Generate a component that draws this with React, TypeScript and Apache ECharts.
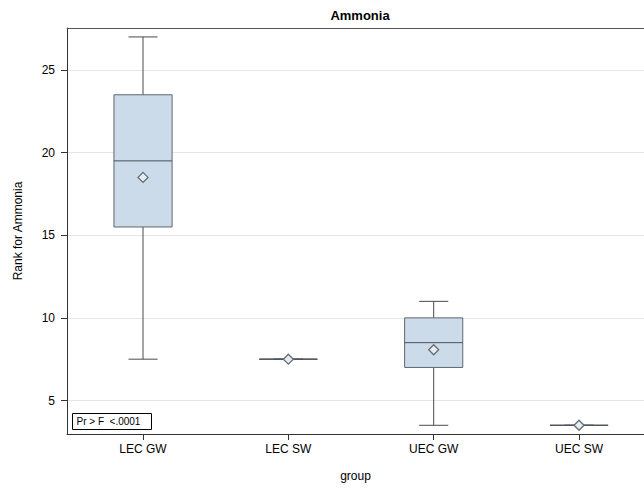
import React, { useEffect, useRef } from "react";
import * as echarts from "echarts";

// Groups and five-number summaries for the ranked ammonia values
const groups = ["LEC GW", "LEC SW", "UEC GW", "UEC SW"];
const whiskerLow = [7.5, 7.5, 3.5, 3.5];
const q1 = [15.5, 7.5, 7, 3.5];
const median = [19.5, 7.5, 8.5, 3.5];
const q3 = [23.5, 7.5, 10, 3.5];
const whiskerHigh = [27, 7.5, 11, 3.5];
const means = [18.5, 7.5, 8.07, 3.5];
const yTicks = [5, 10, 15, 20, 25];
const xTicks = [0, 1, 2, 3];

const BOX_FILL = "#CCDBEA";
const BOX_EDGE = "#5F6770";
const WHISKER = "#4A4A4A";
const FONT = "'Liberation Sans', Arial, sans-serif";
const X_MIN = -0.523;
const X_MAX = 3.447;

export default function App() {
  const ref = useRef<HTMLDivElement>(null);

  useEffect(() => {
    if (!ref.current) return;
    const chart = echarts.init(ref.current, null, { renderer: "svg" });

    const data = groups.map((_, i) => [
      i,
      whiskerLow[i],
      q1[i],
      median[i],
      q3[i],
      whiskerHigh[i],
      means[i],
    ]);

    const renderItem = (params: any, api: any) => {
      const x = api.value(0);
      const pLow = api.coord([x, api.value(1)]);
      const pQ1 = api.coord([x, api.value(2)]);
      const pMed = api.coord([x, api.value(3)]);
      const pQ3 = api.coord([x, api.value(4)]);
      const pHigh = api.coord([x, api.value(5)]);
      const pMean = api.coord([x, api.value(6)]);
      const boxW = api.size([0.4, 0])[0];
      const capW = api.size([0.2, 0])[0];
      const cx = pMed[0];
      const d = 5;
      const lineStyle = { stroke: WHISKER, lineWidth: 1, fill: null };
      return {
        type: "group",
        children: [
          { type: "line", shape: { x1: cx, y1: pLow[1], x2: cx, y2: pQ1[1] }, style: lineStyle },
          { type: "line", shape: { x1: cx, y1: pQ3[1], x2: cx, y2: pHigh[1] }, style: lineStyle },
          { type: "line", shape: { x1: cx - capW / 2, y1: pLow[1], x2: cx + capW / 2, y2: pLow[1] }, style: lineStyle },
          { type: "line", shape: { x1: cx - capW / 2, y1: pHigh[1], x2: cx + capW / 2, y2: pHigh[1] }, style: lineStyle },
          {
            type: "rect",
            shape: { x: cx - boxW / 2, y: pQ3[1], width: boxW, height: pQ1[1] - pQ3[1] },
            style: { fill: BOX_FILL, stroke: BOX_EDGE, lineWidth: 1 },
          },
          { type: "line", shape: { x1: cx - boxW / 2, y1: pMed[1], x2: cx + boxW / 2, y2: pMed[1] }, style: { stroke: "#4A5058", lineWidth: 1 } },
          {
            type: "polygon",
            shape: {
              points: [
                [pMean[0], pMean[1] - d],
                [pMean[0] + d, pMean[1]],
                [pMean[0], pMean[1] + d],
                [pMean[0] - d, pMean[1]],
              ],
            },
            style: { fill: "#E4ECF4", stroke: "#666C72", lineWidth: 1.3 },
          },
        ],
      };
    };

    chart.setOption({
      animation: false,
      backgroundColor: "#ffffff",
      title: {
        text: "Ammonia",
        left: 355,
        top: 4,
        textAlign: "center",
        textStyle: { fontFamily: FONT, fontSize: 13, fontWeight: "bold", color: "#000" },
      },
      grid: {
        left: 67,
        top: 28,
        right: 0,
        bottom: 55,
        show: false,
      },
      xAxis: [
        {
          type: "value",
          min: X_MIN,
          max: X_MAX,
          name: "group",
          nameLocation: "middle",
          nameGap: 36,
          nameTextStyle: { fontFamily: FONT, fontSize: 12, color: "#000" },
          axisLine: { show: true, onZero: false, lineStyle: { color: "#333" } },
          axisTick: { show: true, length: 6, lineStyle: { color: "#333" }, customValues: xTicks },
          axisLabel: {
            customValues: xTicks,
            margin: 9,
            fontFamily: FONT,
            fontSize: 12,
            color: "#000",
            formatter: (v: number) => (Number.isInteger(v) && groups[v] ? groups[v] : ""),
          },
          splitLine: { show: false },
        },
        {
          // top frame line of the plot area
          type: "value",
          position: "top",
          min: X_MIN,
          max: X_MAX,
          axisLine: { show: true, onZero: false, lineStyle: { color: "#555" } },
          axisTick: { show: false },
          axisLabel: { show: false },
          splitLine: { show: false },
        },
      ],
      yAxis: {
        type: "value",
        min: 2.973,
        max: 27.54,
        name: "Rank for Ammonia",
        nameLocation: "middle",
        nameGap: 43,
        nameTextStyle: { fontFamily: FONT, fontSize: 12, color: "#000" },
        axisLine: { show: true, onZero: false, lineStyle: { color: "#333" } },
        axisTick: { show: true, length: 6, lineStyle: { color: "#333" }, customValues: yTicks },
        axisLabel: {
          customValues: yTicks,
          margin: 12,
          fontFamily: FONT,
          fontSize: 12,
          color: "#000",
          formatter: (v: number) => (yTicks.includes(v) ? String(v) : ""),
        },
        splitLine: { show: true, lineStyle: { color: "#E6E6E6", width: 1 } },
      },
      series: [
        {
          type: "custom",
          renderItem,
          data,
          xAxisIndex: 0,
          encode: { x: 0, y: [1, 2, 3, 4, 5, 6] },
          z: 3,
        },
      ],
      graphic: [
        {
          type: "group",
          left: 72,
          top: 413,
          children: [
            {
              type: "rect",
              shape: { x: 0, y: 0, width: 79, height: 16 },
              style: { fill: "#fff", stroke: "#000", lineWidth: 1 },
            },
            {
              type: "text",
              x: 4,
              y: 8,
              style: {
                text: "Pr > F  <.0001",
                fontFamily: FONT,
                fontSize: 10,
                fill: "#000",
                verticalAlign: "middle",
              },
            },
          ],
        },
      ],
    });

    return () => chart.dispose();
  }, []);

  return <div ref={ref} style={{ width: 644, height: 489, position: "absolute", left: 0, top: 0 }} />;
}
